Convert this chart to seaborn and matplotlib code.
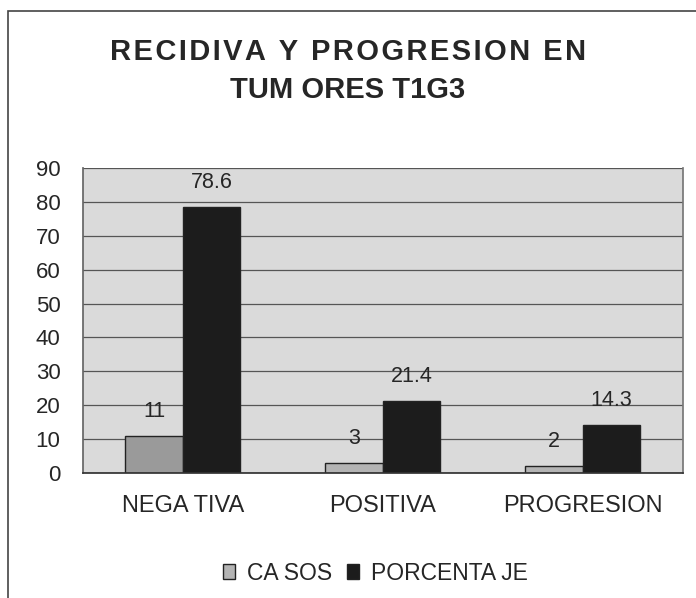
import pandas as pd
import matplotlib
matplotlib.use("Agg")
import matplotlib.pyplot as plt
import seaborn as sns
from matplotlib.patches import Rectangle

categorias = ["NEGA TIVA", "POSITIVA", "PROGRESION"]
casos = [11, 3, 2]
porcentaje = [78.6, 21.4, 14.3]
etiquetas_casos = ["11", "3", "2"]
etiquetas_pct = ["78.6", "21.4", "14.3"]
series = ["CA SOS", "PORCENTA JE"]
titulo = ["RECIDIVA Y PROGRESION EN", "TUM ORES T1G3"]

df = pd.DataFrame({
    "Categoria": categorias * 2,
    "Serie": [series[0]] * 3 + [series[1]] * 3,
    "Valor": casos + porcentaje,
})


def espaciar(txt):
    # widen letter spacing with hair spaces, like the scanned original
    return "\u200a".join(txt)


sns.set_theme(style="white")
plt.rcParams['font.family'] = ['Liberation Sans', 'DejaVu Sans']

fig = plt.figure(figsize=(6.96, 5.98), dpi=100)
fig.patch.set_facecolor("white")
ax = fig.add_axes([0.119, 0.209, 0.862, 0.51])

sns.barplot(data=df, x="Categoria", y="Valor", hue="Serie", ax=ax,
            palette=["#b4b4b4", "#1c1c1c"], width=0.575, gap=0,
            edgecolor="#222222", linewidth=1.0, saturation=1)

ax.set_facecolor("#dadada")
ax.set_ylim(0, 90)
ax.set_yticks(range(0, 91, 10))
ax.set_xlim(-0.5, 2.5)
ax.yaxis.grid(True, color="#555555", linewidth=0.9)
ax.set_axisbelow(True)
ax.spines["top"].set_visible(False)
ax.spines["left"].set_color("#666666")
ax.spines["right"].set_color("#777777")
ax.spines["bottom"].set_color("#333333")
ax.tick_params(axis="y", labelsize=16, length=0, pad=16)
ax.tick_params(axis="x", labelsize=17, length=0, pad=16)
ax.set_xlabel("")
ax.set_ylabel("")

ax.bar_label(ax.containers[0], labels=etiquetas_casos, padding=10, fontsize=15.5)
ax.bar_label(ax.containers[1], labels=etiquetas_pct, padding=10, fontsize=15.5)

# first CASOS bar is a darker gray in the original
ax.containers[0].patches[0].set_facecolor("#9a9a9a")

leg = ax.legend(loc="center", bbox_to_anchor=(0.4875, -0.328), ncol=2,
                frameon=False, fontsize=16.5, handlelength=0.55, handleheight=0.6,
                handletextpad=0.5, columnspacing=0.65, borderpad=0)

fig.text(0.5, 0.8997, espaciar(titulo[0]), ha="center", va="baseline",
         fontsize=21, fontweight="bold")
fig.text(0.5, 0.8361, titulo[1], ha="center", va="baseline",
         fontsize=21, fontweight="bold")

fig.patches.append(Rectangle((0.0115, -0.01), 1.0, 0.9916, transform=fig.transFigure,
                             fill=False, edgecolor="#444444", linewidth=1.2))

fig.savefig("out.png", dpi=100)
